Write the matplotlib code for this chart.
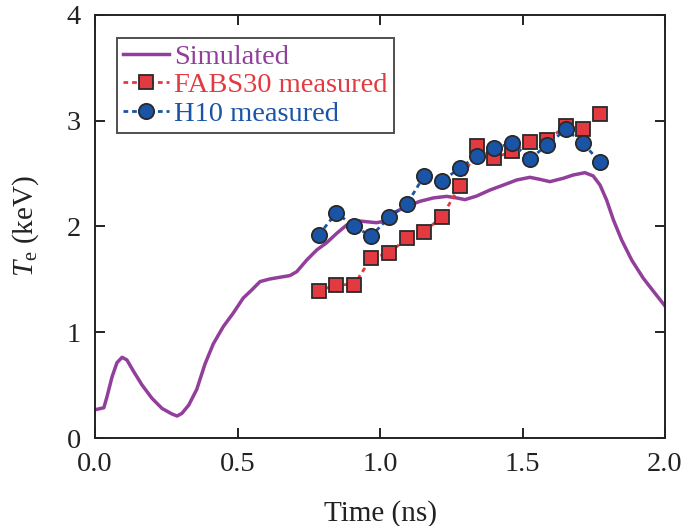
import matplotlib
matplotlib.use("Agg")
import matplotlib.pyplot as plt

plt.rcParams['font.family'] = ['Liberation Serif', 'DejaVu Serif']
plt.rcParams['mathtext.fontset'] = 'custom'
plt.rcParams['mathtext.rm'] = 'Liberation Serif'
plt.rcParams['mathtext.it'] = 'Liberation Serif:italic'

# Simulated curve
sim_t = [0.005, 0.011, 0.031, 0.042, 0.060, 0.077, 0.095, 0.112, 0.136, 0.165,
         0.200, 0.235, 0.270, 0.288, 0.305, 0.329, 0.357, 0.386, 0.415, 0.450,
         0.485, 0.520, 0.550, 0.579, 0.614, 0.649, 0.684, 0.708, 0.743, 0.778,
         0.813, 0.848, 0.883, 0.918, 0.953, 0.988, 1.024, 1.047, 1.094, 1.140,
         1.187, 1.234, 1.269, 1.298, 1.339, 1.386, 1.433, 1.480, 1.526, 1.561,
         1.596, 1.643, 1.678, 1.719, 1.748, 1.772, 1.795, 1.819, 1.848, 1.883,
         1.924, 1.965, 2.0]
sim_T = [0.27, 0.274, 0.286, 0.390, 0.580, 0.712, 0.763, 0.738, 0.627, 0.501,
         0.375, 0.280, 0.227, 0.208, 0.233, 0.312, 0.460, 0.700, 0.890, 1.053,
         1.181, 1.323, 1.400, 1.479, 1.504, 1.520, 1.536, 1.573, 1.683, 1.778,
         1.847, 1.935, 2.014, 2.055, 2.045, 2.036, 2.055, 2.128, 2.191, 2.238,
         2.270, 2.285, 2.270, 2.254, 2.288, 2.345, 2.392, 2.440, 2.465, 2.446,
         2.424, 2.456, 2.487, 2.509, 2.478, 2.392, 2.251, 2.062, 1.872, 1.683,
         1.510, 1.368, 1.248]

# FABS30 measured
fabs_t = [0.785, 0.847, 0.909, 0.969, 1.033, 1.094, 1.155, 1.216, 1.280, 1.340,
          1.401, 1.464, 1.526, 1.587, 1.652, 1.711, 1.772]
fabs_T = [1.39, 1.45, 1.45, 1.70, 1.75, 1.89, 1.95, 2.09, 2.38, 2.76,
          2.65, 2.71, 2.80, 2.82, 2.95, 2.92, 3.06]

# H10 measured
h10_t = fabs_t
h10_T = [1.92, 2.13, 2.00, 1.91, 2.09, 2.21, 2.48, 2.43, 2.55, 2.67,
         2.74, 2.79, 2.64, 2.77, 2.92, 2.79, 2.61]

purple = '#923f9c'
red = '#e23a40'
blue = '#1a54a6'
edge = '#2a2a2a'
dark = '#222222'

fig = plt.figure(figsize=(6.85, 5.26), dpi=100)
ax = fig.add_axes([0.1387, 0.1673, 0.8321, 0.8042])

ax.plot(sim_t, sim_T, color=purple, lw=2.5, label='Simulated', zorder=2,
        solid_joinstyle='round')
ax.plot(fabs_t, fabs_T, color=red, lw=2.0, ls=(0, (1.7, 1.4)), marker='s', ms=10.5,
        mfc=red, mec=edge, mew=1.3, label='FABS30 measured', zorder=3)
ax.plot(h10_t, h10_T, color=blue, lw=2.0, ls=(0, (1.7, 1.4)), marker='o', ms=11,
        mfc=blue, mec=edge, mew=1.3, label='H10 measured', zorder=4)

ax.set_xlim(0, 2.0)
ax.set_ylim(0, 4)
ax.set_xticks([0.0, 0.5, 1.0, 1.5, 2.0])
ax.set_xticklabels(['0.0', '0.5', '1.0', '1.5', '2.0'])
ax.set_yticks([0, 1, 2, 3, 4])
ax.tick_params(direction='in', length=7, width=1.4, top=True, right=True,
               labelsize=20.5, pad=10, colors=dark)
for s in ax.spines.values():
    s.set_linewidth(1.4)
    s.set_color(dark)

ax.set_xlabel('Time (ns)', fontsize=21, labelpad=17, color=dark)
ax.set_ylabel(r'$T_{\mathrm{e}}$ (keV)', fontsize=21, labelpad=18.5, color=dark)

leg = ax.legend(loc='upper left', bbox_to_anchor=(0.0386, 0.9456), fontsize=20.5,
                frameon=True, fancybox=False, edgecolor=dark,
                handlelength=1.6, handletextpad=0.18, borderpad=0.22,
                labelspacing=0.08, borderaxespad=0.0)
leg.get_frame().set_linewidth(1.4)
for txt, c in zip(leg.get_texts(), [purple, red, blue]):
    txt.set_color(c)

fig.savefig('out.png', dpi=100)
